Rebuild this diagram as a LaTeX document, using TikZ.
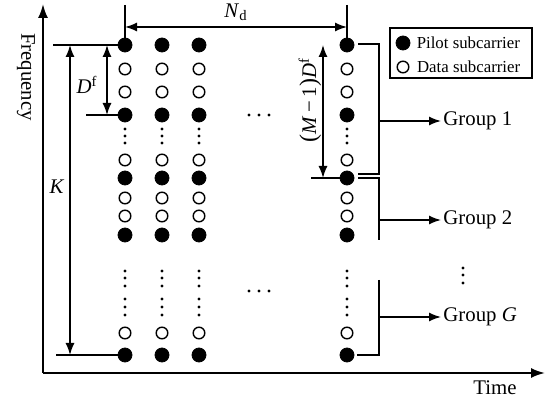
\documentclass[tikz,border=0pt]{standalone}
\usepackage{fontspec}
\setmainfont{Liberation Serif}
\usetikzlibrary{arrows.meta,positioning,calc}

\begin{document}
\begin{tikzpicture}[x=0.5pt,y=-0.5pt,
  pilot/.style={circle,fill=black,draw=black,inner sep=0pt,minimum size=7pt},
  data/.style={circle,draw=black,line width=0.7pt,fill=white,inner sep=0pt,minimum size=5.8pt},
  conn/.style={line width=0.75pt},
  axis/.style={-{Latex[length=7pt,width=5pt]},line width=1pt},
  arrow/.style={-{Latex[length=6pt,width=4.5pt]},line width=0.75pt},
  span/.style={{Latex[length=6pt,width=4.5pt]}-{Latex[length=6pt,width=4.5pt]},line width=0.75pt},
  lbl/.style={font=\fontsize{10.4}{12}\selectfont,inner sep=1pt},
  keytext/.style={font=\fontsize{8.4}{10}\selectfont,inner sep=1pt,anchor=west}
]
\useasboundingbox (0,0) rectangle (551,405);

% axes
\coordinate (origin) at (43,373);
\coordinate (ftop) at (43,4);
\coordinate (tend) at (545,373);
\draw[axis] (origin) -- (ftop);
\draw[axis] (origin) -- (tend);
\node[lbl,rotate=-90] (freq) at (26,77) {Frequency};
\node[lbl] (time) at (495,388) {Time};

% subcarrier grid
\foreach \x [count=\i] in {125,162,199,347} {
  \foreach \y/\t [count=\r] in {45/pilot,69/data,92/data,115/pilot,160/data,178/pilot,198/data,216/data,235/pilot,333/data,355/pilot}
    \node[\t] (c\i-\r) at (\x,\y) {};
  \foreach \y in {129,136,143,271,278,286,299,307,315}
    \fill (\x,\y) circle (0.85pt);
}
\foreach \x in {249,259,269} {
  \fill (\x,115) circle (0.85pt);
  \fill (\x,291) circle (0.85pt);
}

% K and D^f
\coordinate (ktop) at (53,45);
\coordinate (kbot) at (56,355);
\coordinate (dbot) at (86,115);
\draw[conn] (ktop) -- (c1-1);
\draw[conn] (kbot) -- (c1-11);
\draw[conn] (dbot) -- (c1-4);
\draw[span] (70,45) -- (70,355);
\draw[span] (107,45) -- (107,115);
\node[lbl] (klbl) at (57,187) {\textit{K}};
\node[lbl] (dlbl) at (87,85) {\textit{D}\textsuperscript{f}};

% N_d
\coordinate (nl) at (125,5);
\coordinate (nr) at (347,5);
\draw[conn] (nl) -- (c1-1);
\draw[conn] (nr) -- (c4-1);
\draw[span] (125,27) -- (347,27);
\node[lbl] (nlbl) at (236,12) {\textit{N}\textsubscript{d}};

% (M-1)D^f
\coordinate (mbot) at (311,178);
\draw[conn] (mbot) -- (c4-6);
\draw[span] (323,45) -- (323,178);
\node[lbl,rotate=90] (mlbl) at (310,100) {{\large(}\textit{M}\,\textminus\,1{\large)}\textit{D}\textsuperscript{f}};

% groups
\coordinate (g1a) at (358,44);
\coordinate (g1b) at (358,174);
\coordinate (g2a) at (358,178);
\coordinate (g2b) at (379,240);
\coordinate (gGa) at (379,280);
\coordinate (gGb) at (357,355);
\draw[conn] (g1a) -| (379,174) -- (g1b);
\draw[conn] (g2a) -| (g2b);
\draw[conn] (gGa) |- (gGb);
\node[lbl,anchor=west] (grp1) at (441,121) {Group 1};
\node[lbl,anchor=west] (grp2) at (441,220) {Group 2};
\node[lbl,anchor=west] (grpG) at (441,317) {Group \textit{G}};
\draw[arrow] (379,121) -- (grp1);
\draw[arrow] (379,220) -- (grp2);
\draw[arrow] (379,317) -- (grpG);
\foreach \y in {268,275,283}
  \fill (463,\y) circle (0.85pt);

% legend
\node[draw=black,line width=0.6pt,minimum width=71pt,minimum height=25pt,inner sep=0pt] (key) at (461,53) {};
\node[pilot] (kpilot) at (403,43) {};
\node[data] (kdata) at (403,67) {};
\node[keytext,right=2pt of kpilot] (kptxt) {Pilot subcarrier};
\node[keytext,right=2.6pt of kdata] (kdtxt) {Data subcarrier};
\end{tikzpicture}
\end{document}
